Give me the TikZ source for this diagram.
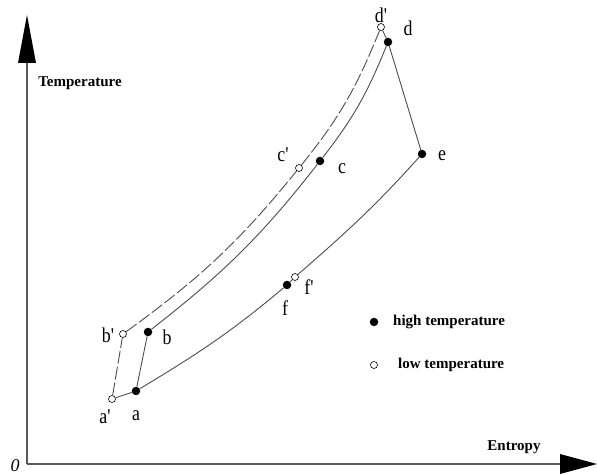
\documentclass[tikz,border=0pt]{standalone}
\usepackage{fontspec}
\setmainfont{Liberation Serif}
\newfontfamily\lblfont[FakeStretch=0.85]{Liberation Serif}
\usetikzlibrary{arrows.meta}
\begin{document}
\begin{tikzpicture}[x=1pt,y=1pt,
  hot/.style={circle,fill=black,inner sep=0pt,minimum size=8.5pt},
  cold/.style={circle,draw=black,fill=white,line width=0.6pt,inner sep=0pt,minimum size=7pt},
  pt/.style={font=\lblfont\fontsize{21}{21}\selectfont,inner sep=0pt},
  axlbl/.style={font=\bfseries\fontsize{15}{15}\selectfont,inner sep=0pt},
  cyc/.style={draw=black!70,line width=0.9pt},
  cycd/.style={cyc,dash pattern=on 13pt off 3pt},
  axis/.style={draw=black!65,line width=1.4pt}]
\useasboundingbox (0,0) rectangle (597,474);
% axes
\coordinate (O) at (27,10);
\coordinate (ytip) at (27,459);
\coordinate (xtip) at (597,10);
\draw[axis,-{Triangle[length=48pt,width=18pt,fill=black,line width=0pt]}] (O) -- (ytip);
\draw[axis,-{Triangle[length=37pt,width=20pt,fill=black,line width=0pt]}] (O) -- (xtip);
\node[font=\itshape\fontsize{18}{18}\selectfont,inner sep=0pt,anchor=base] (zero) at (15,3) {0};
\node[axlbl] (temp) at (80,391) {Temperature};
\node[axlbl] (entr) at (514,27) {Entropy};
% state points
\node[hot] (a) at (136,83) {};
\node[cold] (ap) at (112,75) {};
\node[hot] (b) at (148,142) {};
\node[cold] (bp) at (123,140) {};
\node[hot] (c) at (320,313) {};
\node[cold] (cp) at (299,306) {};
\node[hot] (d) at (388,432) {};
\node[cold] (dp) at (381,447) {};
\node[hot] (e) at (422,320) {};
\node[hot] (f) at (287,189) {};
\node[cold] (fp) at (295,197) {};
% cycle lines
\draw[cyc] (ap) -- (a);
\draw[cyc] (a) -- (b);
\draw[cycd] (ap) -- (bp);
\draw[cyc] (b) to[out=38,in=232] (c) to[out=52,in=248] (d);
\draw[cycd] (bp) to[out=36,in=231] (cp) to[out=51,in=248] (dp);
\draw[cyc] (dp) -- (d);
\draw[cyc] (d) -- (e);
\draw[cyc] (a) to[out=31,in=220] (f);
\draw[cyc] (f) -- (fp);
\draw[cyc] (fp) to[out=41,in=228] (e);
% labels
\node[pt] (la) at (136,58) {a};
\node[pt] (lap) at (105,57) {a'};
\node[pt] (lb) at (167,137) {b};
\node[pt] (lbp) at (108,139) {b'};
\node[pt] (lc) at (342,305) {c};
\node[pt] (lcp) at (283,319) {c'};
\node[pt] (ld) at (408,446) {d};
\node[pt] (ldp) at (381,459) {d'};
\node[pt] (le) at (442,318) {e};
\node[pt] (lf) at (285,166) {f};
\node[pt] (lfp) at (309,187) {f'};
% legend
\node[hot] (lg1) at (374,152) {};
\node[axlbl,anchor=west] (lg1t) at (393,152) {high temperature};
\node[cold] (lg2) at (374,109) {};
\node[axlbl,anchor=west] (lg2t) at (398,109) {low temperature};
\end{tikzpicture}
\end{document}
